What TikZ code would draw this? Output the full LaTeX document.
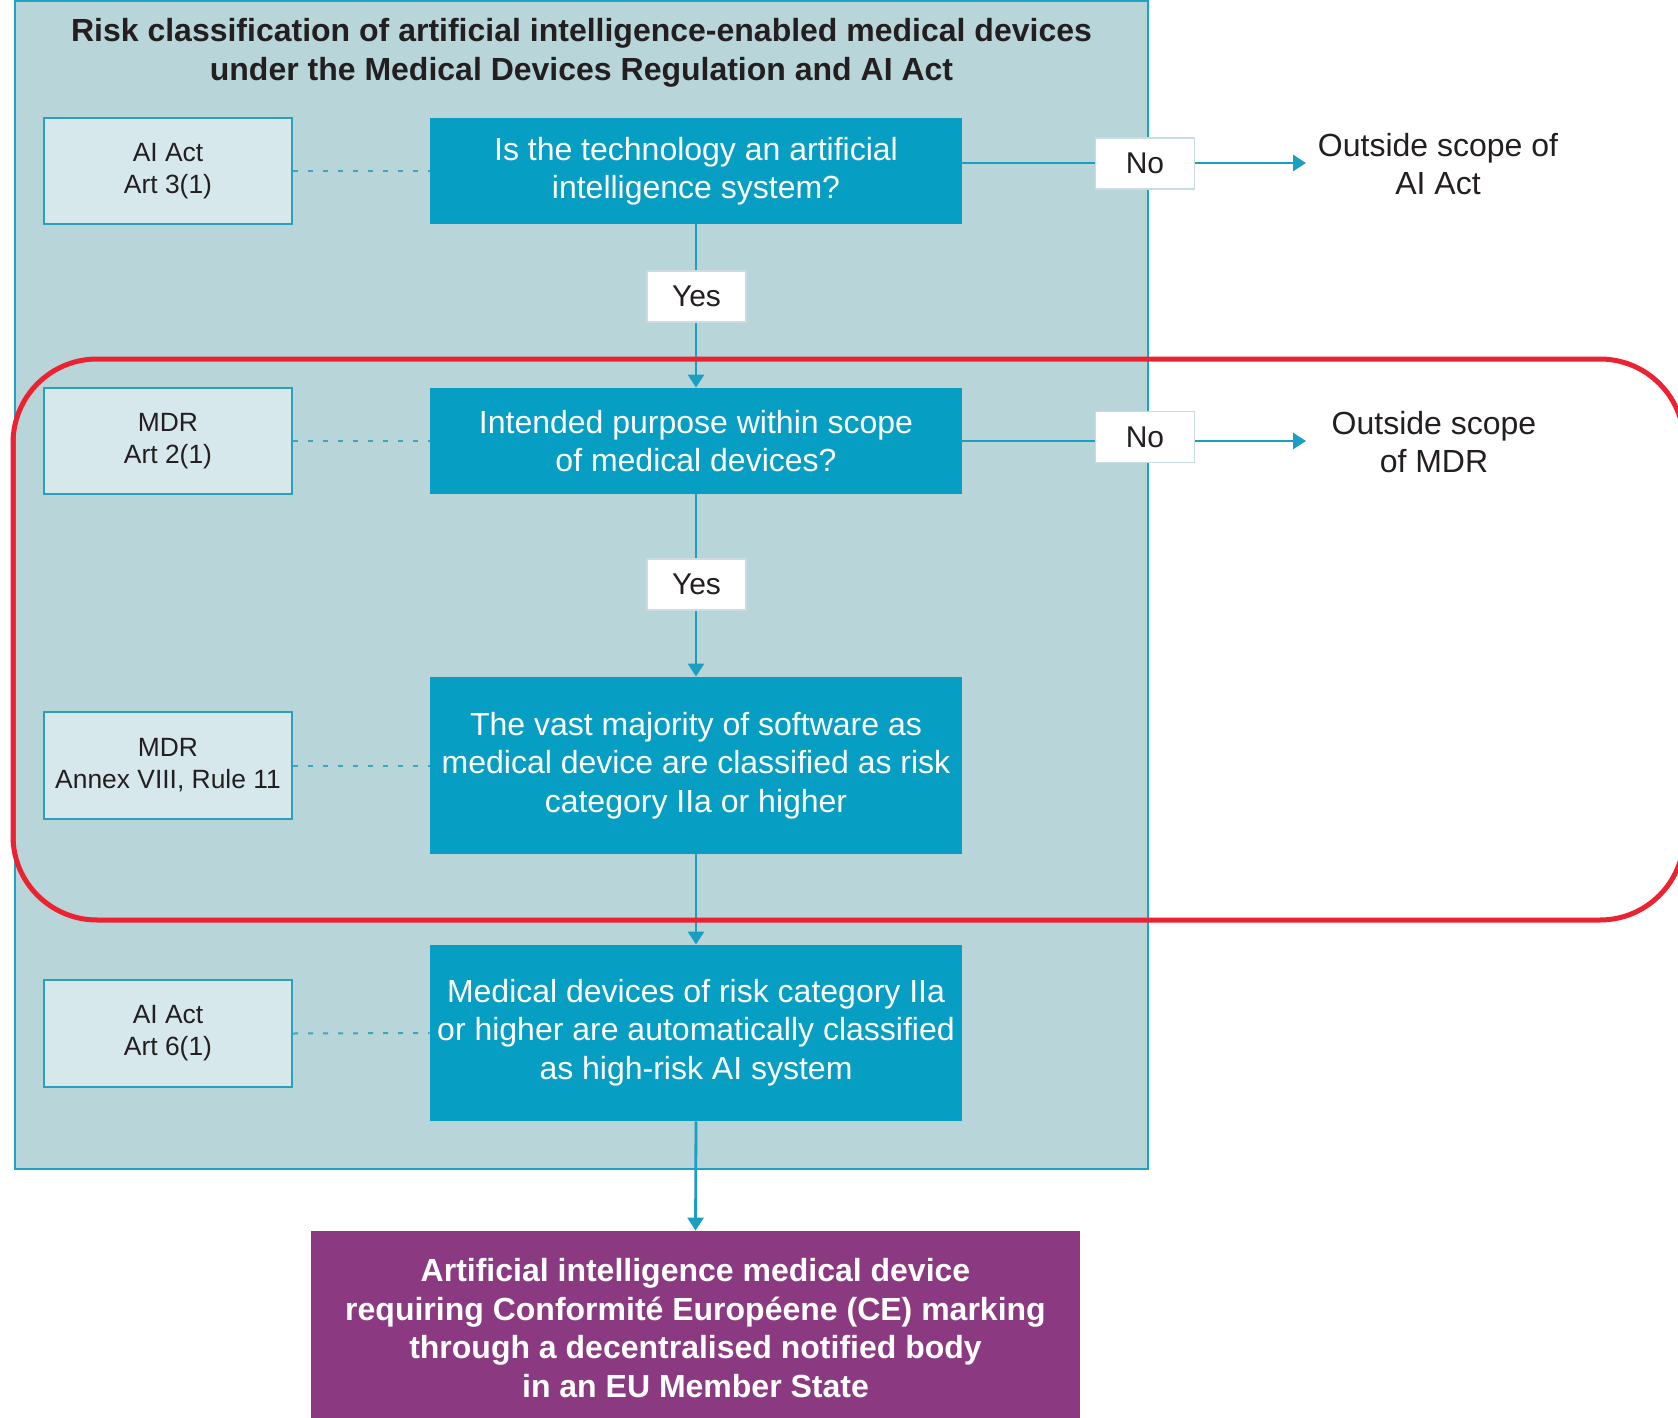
\documentclass[tikz,border=0pt]{standalone}
\usepackage{fontspec}
\setmainfont{Liberation Sans}
\usetikzlibrary{arrows.meta}
\definecolor{panelfill}{HTML}{B8D6DA}
\definecolor{panelline}{HTML}{1FA3C4}
\definecolor{boxteal}{HTML}{079EC3}
\definecolor{reffill}{HTML}{D6E8EC}
\definecolor{refline}{HTML}{2A9FBE}
\definecolor{dotcol}{HTML}{3BA6C2}
\definecolor{flowcol}{HTML}{1A9EC1}
\definecolor{purplebox}{HTML}{8B3A81}
\definecolor{redline}{HTML}{EC2231}
\definecolor{ink}{HTML}{231F20}
\definecolor{tagline}{HTML}{C9DCE2}
\begin{document}
\begin{tikzpicture}[x=0.5pt,y=-0.5pt,
  mainbox/.style={fill=boxteal, text=white, minimum width=266pt, inner sep=0pt,
    align=center, font=\fontsize{16pt}{19.25pt}\selectfont},
  refbox/.style={fill=reffill, draw=refline, line width=1.2pt, minimum width=124pt,
    minimum height=53pt, inner sep=0pt, align=center, text=ink,
    font=\fontsize{13.2pt}{16pt}\selectfont},
  tag/.style={fill=white, draw=tagline, line width=0.6pt, minimum width=49.5pt,
    minimum height=25.5pt, inner sep=0pt, text=ink, font=\fontsize{15pt}{18pt}\selectfont},
  outtext/.style={align=center, text=ink, inner sep=0pt, font=\fontsize{16pt}{19pt}\selectfont},
  flow/.style={draw=flowcol, line width=1.4pt, -{Triangle[length=6.5pt,width=8pt]}},
  dotline/.style={draw=dotcol, line width=1pt, dash pattern=on 2.5pt off 5pt},
]
\useasboundingbox (0,0) rectangle (1678,1418);
\clip (0,0) rectangle (1678,1418);

% background panel
\draw[fill=panelfill, draw=panelline, line width=1.3pt] (15,1) rectangle (1148,1169);

% title
\node[align=center, text=ink, inner sep=0pt, font=\bfseries\fontsize{16pt}{19.25pt}\selectfont]
  (title) at (581.5,53) {Risk classification of artificial intelligence-enabled medical devices\\under the Medical Devices Regulation and AI Act};

% decision and outcome boxes
\node[mainbox, minimum height=53pt] (A) at (696,171) {Is the technology an artificial\\intelligence system?};
\node[mainbox, minimum height=53pt] (B) at (696,441) {Intended purpose within scope\\of medical devices?};
\node[mainbox, minimum height=88.5pt] (C) at (696,765.5) {The vast majority of software as\\medical device are classified as risk\\category IIa or higher};
\node[mainbox, minimum height=88pt] (D) at (696,1033) {\raisebox{-3pt}{\begin{tabular}{@{}c@{}}Medical devices of risk category IIa\\or higher are automatically classified\\as high-risk AI system\end{tabular}}};
\node[fill=purplebox, text=white, minimum width=384.5pt, minimum height=97pt, inner sep=0pt,
  align=center, font=\bfseries\fontsize{16pt}{19.25pt}\selectfont]
  (P) at (695.5,1328) {Artificial intelligence medical device\\requiring Conformité Européene (CE) marking\\through a decentralised notified body\\in an EU Member State};

% legal references
\node[refbox] (r1) at (168,171) {AI Act\\Art 3(1)};
\node[refbox] (r2) at (168,441) {MDR\\Art 2(1)};
\node[refbox, minimum height=53.5pt] (r3) at (168,765.5) {MDR\\Annex VIII, Rule 11};
\node[refbox, minimum height=53.5pt] (r4) at (168,1033.5) {AI Act\\Art 6(1)};

\draw[dotline] (r1.east) -- (A.west);
\draw[dotline] (r2.east) -- (B.west);
\draw[dotline] (r3.east) -- (C.west);
\draw[dotline] (r4.east) -- (D.west);

% outside-scope texts
\node[outtext] (out1) at (1438,164) {Outside scope of\\AI Act};
\node[outtext] (out2) at (1434,442) {Outside scope\\of MDR};
\coordinate (tip1) at (1306,163);
\coordinate (tip2) at (1306,441);

% flow connectors
\draw[flow] (A.south) -- (B.north);
\draw[flow] (B.south) -- (C.north);
\draw[flow] (C.south) -- (D.north);
\draw[flow] (D.south) -- (P.north);
\draw[flow] (A.east |- tip1) -- (tip1);
\draw[flow] (B.east) -- (tip2);

% answer labels
\node[tag] (yes1) at (696.5,296.5) {Yes};
\node[tag] (yes2) at (696.5,584.5) {Yes};
\node[tag] (no1) at (1145,163.5) {No};
\node[tag] (no2) at (1145,437) {No};

% highlighted MDR section
\draw[draw=redline, line width=2.5pt, rounded corners=42pt] (13,359) rectangle (1684,920);
\end{tikzpicture}
\end{document}
